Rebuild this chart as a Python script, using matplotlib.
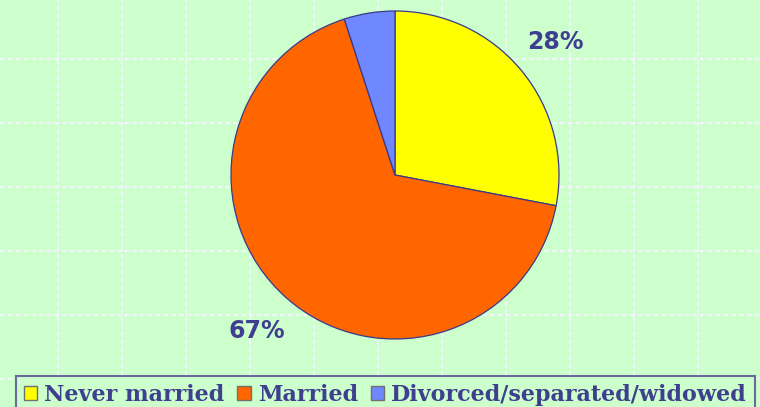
import numpy as np
import matplotlib.pyplot as plt
from matplotlib.patches import Patch

labels = ['Never married', 'Married', 'Divorced/separated/widowed']
shares = [28, 67, 5]
colors = ['#ffff00', '#ff6600', '#6f87ff']

bg = '#ccffcc'
ink = '#3f3f8f'

W, H = 760, 407
fig = plt.figure(figsize=(W / 100, H / 100), dpi=100, facecolor=bg)

# background grid
ax_bg = fig.add_axes([0, 0, 1, 1])
ax_bg.set_facecolor(bg)
ax_bg.set_xlim(0, W)
ax_bg.set_ylim(H, 0)
ax_bg.set_xticks(np.arange(58, W, 64))
ax_bg.set_yticks(np.arange(59, H, 64))
ax_bg.grid(True, color='#f4f4ff', linestyle=(0, (2.5, 1.5)), linewidth=1.4)
ax_bg.tick_params(length=0, labelbottom=False, labelleft=False)
for s in ax_bg.spines.values():
    s.set_visible(False)

# pie
cx, cy, r = 395, 175, 164
ax = fig.add_axes([(cx - r) / W, (H - cy - r) / H, 2 * r / W, 2 * r / H])
ax.set_facecolor('none')
wedges, texts, autotexts = ax.pie(
    shares, colors=colors, startangle=90, counterclock=False,
    autopct=lambda p: f'{p:.0f}%' if p > 10 else '', pctdistance=1.27,
    wedgeprops=dict(edgecolor='#3a3a8a', linewidth=0.9),
    textprops=dict(color=ink, fontsize=17, fontweight='bold', family='DejaVu Sans'))
ax.set_xlim(-1, 1)
ax.set_ylim(-1, 1)
ax.set_aspect('auto')
ax.axis('off')

# legend
handles = [Patch(facecolor=c, edgecolor='#707070', linewidth=1.0) for c in colors]
leg = fig.legend(handles, labels, ncol=3, loc='upper left',
                 bbox_to_anchor=(16 / W, 1 - 376 / H), borderaxespad=0,
                 frameon=True, fancybox=False, facecolor=bg, edgecolor='#6a6a9a',
                 framealpha=1, borderpad=0.35, handlelength=0.6, handleheight=0.6,
                 handletextpad=0.32, columnspacing=0.58,
                 prop=dict(family='DejaVu Serif', weight='bold', size=16))
leg.get_frame().set_linewidth(1.5)
for t in leg.get_texts():
    t.set_color(ink)

fig.savefig('out.png', dpi=100, facecolor=bg)
